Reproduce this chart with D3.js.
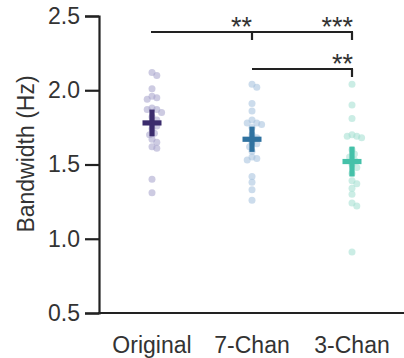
<!DOCTYPE html>
<html><head><meta charset="utf-8">
<script src="https://cdn.jsdelivr.net/npm/d3@7/dist/d3.min.js"></script>
<style>body{margin:0;background:#fff}svg{display:block}text{font-family:"Liberation Sans",Arial,sans-serif;fill:#333}</style>
</head><body><svg id="c" width="404" height="358"></svg>
<script>
const categories = ["Original", "7-Chan", "3-Chan"];
const originalVals = [2.12,2.10,2.01,1.96,1.95,1.94,1.88,1.87,1.87,1.85,1.82,1.80,1.78,1.76,1.74,1.71,1.70,1.67,1.65,1.62,1.61,1.40,1.31];
const chan7Vals = [2.04,2.02,1.91,1.86,1.80,1.78,1.78,1.77,1.75,1.70,1.68,1.65,1.64,1.62,1.59,1.55,1.54,1.53,1.42,1.38,1.33,1.26];
const chan3Vals = [2.04,1.90,1.81,1.70,1.69,1.69,1.68,1.60,1.57,1.55,1.53,1.50,1.48,1.44,1.39,1.37,1.34,1.30,1.24,1.22,0.91];
const means = [1.78, 1.67, 1.52];
const sems = [0.09, 0.085, 0.10];
const yTicks = [0.5, 1.0, 1.5, 2.0, 2.5];
const comparisons = [
  {from: 0, to: 2, label: "***", level: 0, midLabel: "**"},
  {from: 1, to: 2, label: "**", level: 1}
];
const dotColors = ["#a4a1cb", "#a3c0dc", "#a0dfcf"];
const meanColors = ["#3b2c6d", "#2f72a0", "#45c1a9"];
const series = [originalVals, chan7Vals, chan3Vals];

const svg = d3.select("#c");
const x = d3.scalePoint().domain(categories).range([152, 352]);
const y = d3.scaleLinear().domain([0.5, 2.5]).range([313, 16]);

// axes
const yAxis = svg.append("g").attr("transform", "translate(99,0)")
  .call(d3.axisLeft(y).tickValues(yTicks).tickFormat(d3.format(".1f")).tickSize(14).tickPadding(5));
yAxis.select(".domain").attr("stroke", "#222").attr("stroke-width", 2.2);
yAxis.selectAll(".tick line").attr("stroke", "#222").attr("stroke-width", 2.2);
yAxis.selectAll(".tick text").attr("font-size", 23).attr("fill", "#333")
  .attr("font-family", "Liberation Sans, Arial, sans-serif");

svg.append("line").attr("x1", 98).attr("x2", 404).attr("y1", y(0.5)).attr("y2", y(0.5))
  .attr("stroke", "#222").attr("stroke-width", 2.2);

svg.append("g").selectAll("text").data(categories).join("text")
  .attr("x", d => x(d)).attr("y", 353).attr("text-anchor", "middle")
  .attr("font-size", 23).text(d => d);

svg.append("text").attr("transform", "translate(34,154) rotate(-90)")
  .attr("text-anchor", "middle").attr("font-size", 23).text("Bandwidth (Hz)");

// beeswarm
const r = 3.5, minD = 4.8;
series.forEach((vals, gi) => {
  const cx = x(categories[gi]);
  const placed = [];
  const pts = vals.map(v => ({v, py: y(v)}));
  pts.forEach(p => {
    const cand = [0];
    for (let k = 1; k < 12; k++) { cand.push(k * 2.4, -k * 2.4); }
    for (const off of cand) {
      if (placed.every(q => Math.hypot(q.px - (cx + off), q.py - p.py) >= minD)) {
        p.px = cx + off; break;
      }
    }
    placed.push(p);
  });
  svg.append("g").selectAll("circle").data(pts).join("circle")
    .attr("cx", d => d.px).attr("cy", d => d.py).attr("r", r)
    .attr("fill", dotColors[gi]).attr("fill-opacity", 0.55);
  // mean ± sem cross
  svg.append("rect").attr("x", cx - 2.6).attr("width", 5.2)
    .attr("y", y(means[gi] + sems[gi])).attr("height", y(means[gi] - sems[gi]) - y(means[gi] + sems[gi]))
    .attr("fill", meanColors[gi]);
  svg.append("rect").attr("x", cx - 9.5).attr("width", 19)
    .attr("y", y(means[gi]) - 2.6).attr("height", 5.2).attr("fill", meanColors[gi]);
});

// significance brackets
const levelY = [32, 69];
comparisons.forEach(c => {
  const yy = levelY[c.level];
  const x1 = x(categories[c.from]) - (c.level === 0 ? 1 : 0), x2 = x(categories[c.to]);
  const g = svg.append("g").attr("stroke", "#222").attr("stroke-width", 2.2).attr("fill", "none");
  g.append("line").attr("x1", x1).attr("x2", x2 + 1).attr("y1", yy).attr("y2", yy);
  g.append("line").attr("x1", x2).attr("x2", x2).attr("y1", yy).attr("y2", yy + 8);
  svg.append("text").attr("x", x2 + 1).attr("y", yy + 4).attr("text-anchor", "end")
    .attr("font-size", 27).attr("fill", "#333").text(c.label);
  if (c.midLabel) {
    const xm = x(categories[1]);
    g.append("line").attr("x1", xm).attr("x2", xm).attr("y1", yy).attr("y2", yy + 8);
    svg.append("text").attr("x", xm).attr("y", yy + 4).attr("text-anchor", "end")
      .attr("font-size", 27).attr("fill", "#333").text(c.midLabel);
  }
});
</script></body></html>
